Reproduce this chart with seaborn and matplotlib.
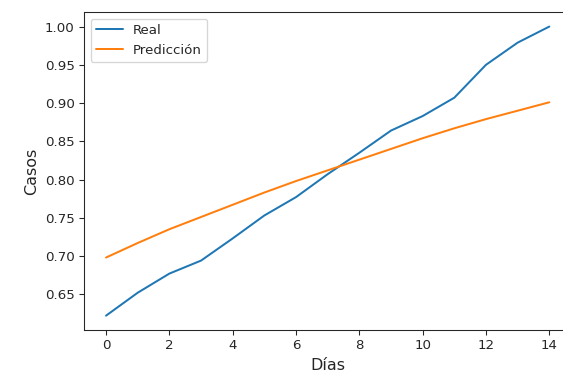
import numpy as np
import pandas as pd
import matplotlib
matplotlib.use("Agg")
import matplotlib.pyplot as plt
import seaborn as sns

# data
dias = list(range(15))
real = [0.622, 0.652, 0.677, 0.694, 0.723, 0.753, 0.777, 0.807, 0.835, 0.864,
        0.883, 0.907, 0.950, 0.979, 1.000]
prediccion = [0.698, 0.717, 0.735, 0.751, 0.767, 0.783, 0.798, 0.812, 0.826,
              0.840, 0.854, 0.867, 0.879, 0.890, 0.901]

df = pd.DataFrame({
    "Días": dias * 2,
    "Casos": real + prediccion,
    "serie": ["Real"] * len(dias) + ["Predicción"] * len(dias),
})

sns.set_style("ticks")
plt.rcParams["font.family"] = ["DejaVu Sans"]

fig, ax = plt.subplots(figsize=(563 / 96, 379 / 96), dpi=96)
sns.lineplot(data=df, x="Días", y="Casos", hue="serie",
             palette=["#1f77b4", "#ff7f0e"], linewidth=1.5, ax=ax)
ax.set_xticks(range(0, 15, 2))
ax.set_yticks(np.arange(0.65, 1.0001, 0.05))
ax.tick_params(labelsize=10)
ax.set_xlabel("Días", fontsize=12)
ax.set_ylabel("Casos", fontsize=12)
ax.legend(title=None, loc="upper left", fontsize=10)
# the original image is cropped just past the last tick, so the right spine falls off the canvas
fig.subplots_adjust(left=0.149, right=1.015, top=0.968, bottom=0.129)
fig.savefig("out.png", dpi=96)
